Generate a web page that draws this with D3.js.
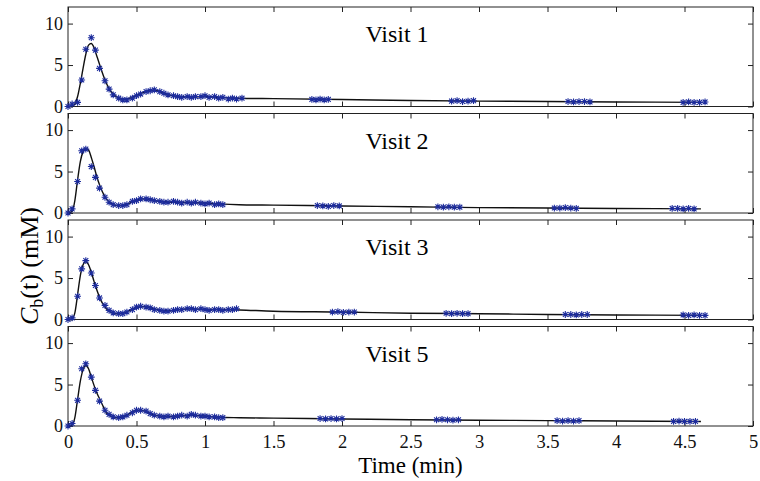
<!DOCTYPE html>
<html>
<head>
<meta charset="utf-8">
<script src="https://cdn.jsdelivr.net/npm/d3@7"></script>
<style>
  body { margin: 0; background: #fff; }
  svg { display: block; }
</style>
</head>
<body>
<script>
// Drawing area
const w = 760;
const h = 481;

// Plot box edges
const left = 68;
const right = 753;
const firstTop = 7;
const panelStep = 106.5;
const panelH = 99.5;

// Panel titles
const visits = ["Visit 1", "Visit 2", "Visit 3", "Visit 5"];

// Axis ticks
const xTicks = [0, 0.5, 1, 1.5, 2, 2.5, 3, 3.5, 4, 4.5, 5];
const yTicks = [0, 5, 10];

// Times of the dense samples (min)
const sampleTimes = [0.00, 0.03, 0.07, 0.10, 0.13, 0.17, 0.20, 0.23, 0.27, 0.30,
  0.33, 0.37, 0.40, 0.43, 0.47, 0.50, 0.53, 0.57, 0.60, 0.63, 0.67, 0.70, 0.73,
  0.77, 0.80, 0.83, 0.87, 0.90, 0.93, 0.97, 1.00, 1.03, 1.07, 1.10, 1.13, 1.17,
  1.20, 1.23, 1.27];

// Measured values for each visit (mM)
const samples1 = [0.0, 0.3, 0.5, 3.2, 6.9, 8.3, 6.8, 4.6, 3.1, 2.1, 1.4, 1.0, 0.8,
  0.8, 1.0, 1.3, 1.5, 1.8, 1.9, 2.0, 1.8, 1.6, 1.4, 1.3, 1.2, 1.1, 1.2, 1.1, 1.2,
  1.2, 1.3, 1.1, 1.2, 1.0, 1.1, 0.9, 1.0, 0.9, 1.0];
const samples2 = [0.0, 0.5, 3.8, 7.5, 7.7, 5.6, 4.3, 3.0, 1.9, 1.3, 1.0, 0.9, 0.9,
  1.0, 1.4, 1.5, 1.7, 1.7, 1.6, 1.5, 1.4, 1.3, 1.3, 1.4, 1.3, 1.2, 1.3, 1.2, 1.3,
  1.2, 1.1, 1.2, 1.0, 1.1, 1.0];
const samples3 = [0.0, 0.2, 2.8, 6.1, 7.1, 5.6, 4.1, 2.6, 1.7, 1.1, 0.8, 0.7, 0.7,
  0.9, 1.2, 1.5, 1.6, 1.5, 1.4, 1.2, 1.1, 1.0, 1.0, 1.1, 1.2, 1.2, 1.3, 1.3, 1.2,
  1.3, 1.2, 1.1, 1.2, 1.2, 1.1, 1.2, 1.2, 1.3];
const samples4 = [0.0, 0.3, 3.1, 6.9, 7.5, 5.9, 4.3, 3.0, 1.9, 1.4, 1.1, 1.0, 1.1,
  1.3, 1.6, 1.9, 1.9, 1.8, 1.5, 1.3, 1.2, 1.1, 1.2, 1.1, 1.2, 1.3, 1.2, 1.4, 1.3,
  1.2, 1.2, 1.1, 1.1, 1.0, 1.0];

// Late sample clusters: times and values
const lateTimes1 = [1.78, 1.81, 1.84, 1.87, 1.90, 2.80, 2.84, 2.88, 2.92, 2.96,
  3.65, 3.69, 3.73, 3.77, 3.81, 4.49, 4.53, 4.57, 4.61, 4.65];
const lateValues1 = [0.85, 0.8, 0.9, 0.8, 0.85, 0.65, 0.7, 0.6, 0.65, 0.7,
  0.6, 0.55, 0.6, 0.6, 0.55, 0.5, 0.55, 0.5, 0.5, 0.55];
const lateTimes2 = [1.82, 1.86, 1.90, 1.94, 1.98, 2.70, 2.74, 2.78, 2.82, 2.86,
  3.55, 3.59, 3.63, 3.67, 3.71, 4.41, 4.45, 4.49, 4.53, 4.57];
const lateValues2 = [0.9, 0.85, 0.8, 0.9, 0.85, 0.75, 0.7, 0.75, 0.7, 0.7,
  0.6, 0.6, 0.65, 0.6, 0.55, 0.55, 0.55, 0.5, 0.55, 0.5];
const lateTimes3 = [1.93, 1.97, 2.01, 2.05, 2.09, 2.76, 2.80, 2.84, 2.88, 2.92,
  3.63, 3.67, 3.71, 3.75, 3.79, 4.49, 4.53, 4.57, 4.61, 4.65];
const lateValues3 = [0.9, 0.95, 0.85, 0.9, 0.9, 0.75, 0.7, 0.75, 0.7, 0.7,
  0.6, 0.6, 0.55, 0.6, 0.6, 0.55, 0.5, 0.55, 0.5, 0.5];
const lateTimes4 = [1.84, 1.88, 1.92, 1.96, 2.00, 2.69, 2.73, 2.77, 2.81, 2.85,
  3.57, 3.61, 3.65, 3.69, 3.73, 4.42, 4.46, 4.50, 4.54, 4.58];
const lateValues4 = [0.9, 0.85, 0.9, 0.85, 0.9, 0.75, 0.8, 0.75, 0.7, 0.75,
  0.65, 0.6, 0.65, 0.6, 0.65, 0.55, 0.6, 0.55, 0.55, 0.55];

// Fitted curve: times and values for each visit
const curveTimes = [0, 0.03, 0.05, 0.07, 0.09, 0.11, 0.13, 0.15, 0.17, 0.19, 0.21,
  0.23, 0.25, 0.28, 0.31, 0.35, 0.40, 0.45, 0.50, 0.55, 0.60, 0.65, 0.70, 0.75,
  0.80, 0.90, 1.00, 1.10, 1.25, 1.50, 2.00, 2.50, 3.00, 3.50, 4.00, 4.62];
const fit1 = [0, 0.05, 0.3, 1.2, 2.8, 4.6, 6.3, 7.4, 7.6, 7.1, 6.1, 5.1, 4.1, 2.8,
  1.9, 1.2, 0.85, 1.0, 1.35, 1.7, 1.95, 1.9, 1.6, 1.35, 1.2, 1.15, 1.2, 1.1, 1.0,
  0.95, 0.85, 0.72, 0.65, 0.6, 0.55, 0.5];
const fit2 = [0, 0.2, 1.5, 4.0, 6.2, 7.4, 7.8, 7.6, 6.7, 5.6, 4.4, 3.4, 2.6, 1.7,
  1.2, 0.9, 0.9, 1.2, 1.55, 1.7, 1.6, 1.45, 1.35, 1.3, 1.3, 1.25, 1.2, 1.1, 1.0,
  0.95, 0.85, 0.75, 0.65, 0.6, 0.55, 0.5];
const fit3 = [0, 0.1, 0.8, 3.0, 5.3, 6.6, 7.0, 6.6, 5.7, 4.6, 3.6, 2.7, 2.0, 1.3,
  0.9, 0.7, 0.75, 1.1, 1.45, 1.55, 1.45, 1.2, 1.05, 1.05, 1.15, 1.3, 1.2, 1.2, 1.15,
  1.0, 0.9, 0.75, 0.7, 0.6, 0.55, 0.5];
const fit4 = [0, 0.1, 1.0, 3.2, 5.4, 6.8, 7.3, 6.9, 5.9, 4.9, 4.0, 3.3, 2.6, 1.6,
  1.2, 1.0, 1.1, 1.5, 1.9, 1.85, 1.5, 1.25, 1.15, 1.15, 1.2, 1.3, 1.2, 1.05, 1.0,
  0.95, 0.85, 0.75, 0.7, 0.65, 0.6, 0.55];

const samples = [samples1, samples2, samples3, samples4];
const lateTimes = [lateTimes1, lateTimes2, lateTimes3, lateTimes4];
const lateValues = [lateValues1, lateValues2, lateValues3, lateValues4];
const fits = [fit1, fit2, fit3, fit4];

const font = "'Liberation Serif', 'Times New Roman', serif";
const markerColor = "#1d2c9c";

const svg = d3.select("body").append("svg").attr("width", w).attr("height", h);

// Shared x scale
const xScale = d3.scaleLinear().domain([0, 5]).range([left, right]);

// Asterisk marker shape (plus and cross)
function asterisk(s) {
  const a = s * 0.72;
  return "M" + -s + ",0L" + s + ",0M0," + -s + "L0," + s +
    "M" + -a + "," + -a + "L" + a + "," + a + "M" + -a + "," + a + "L" + a + "," + -a;
}

visits.forEach(function (name, p) {
  const top = firstTop + p * panelStep;
  const bottom = top + panelH;
  const yScale = d3.scaleLinear().domain([0, 12]).range([bottom, top]);
  const g = svg.append("g");

  // Ticks on all four sides, pointing inward
  const tickLen = 5;
  g.append("g").attr("transform", "translate(0," + bottom + ")")
    .call(d3.axisBottom(xScale).tickValues(xTicks).tickSizeInner(-tickLen).tickSizeOuter(0)
      .tickFormat(p === 3 ? d3.format("") : ""))
    .call(styleAxis)
    .selectAll("text").attr("y", 9).style("font-size", "18.5px");
  g.append("g").attr("transform", "translate(0," + top + ")")
    .call(d3.axisTop(xScale).tickValues(xTicks).tickSizeInner(-tickLen).tickSizeOuter(0).tickFormat(""))
    .call(styleAxis);
  g.append("g").attr("transform", "translate(" + left + ",0)")
    .call(d3.axisLeft(yScale).tickValues(yTicks).tickSizeInner(-tickLen).tickSizeOuter(0))
    .call(styleAxis)
    .selectAll("text").attr("x", -5).style("font-size", "18px");
  g.append("g").attr("transform", "translate(" + right + ",0)")
    .call(d3.axisRight(yScale).tickValues(yTicks).tickSizeInner(-tickLen).tickSizeOuter(0).tickFormat(""))
    .call(styleAxis);

  // Box
  g.append("rect")
    .attr("x", left).attr("y", top)
    .attr("width", right - left).attr("height", bottom - top)
    .attr("fill", "none").attr("stroke", "#222").attr("stroke-width", 1);

  // Fitted curve
  const line = d3.line()
    .x(function (d, i) { return xScale(curveTimes[i]); })
    .y(function (d) { return yScale(d); })
    .curve(d3.curveMonotoneX);
  g.append("path")
    .datum(fits[p])
    .attr("d", line)
    .attr("fill", "none").attr("stroke", "#111").attr("stroke-width", 1.4);

  // Sample markers
  const pts = samples[p].map(function (v, i) { return [sampleTimes[i], v]; })
    .concat(lateValues[p].map(function (v, i) { return [lateTimes[p][i], v]; }));
  g.selectAll("path.mk")
    .data(pts)
    .enter()
    .append("path")
    .attr("class", "mk")
    .attr("transform", function (d) { return "translate(" + xScale(d[0]) + "," + yScale(d[1]) + ")"; })
    .attr("d", asterisk(3.4))
    .attr("fill", "none").attr("stroke", markerColor).attr("stroke-width", 1.1);

  // Panel title
  g.append("text")
    .attr("x", 397).attr("y", top + 35)
    .attr("text-anchor", "middle")
    .style("font-family", font).style("font-size", "24px")
    .text(name);
});

function styleAxis(sel) {
  sel.attr("font-family", null);
  sel.select(".domain").remove();
  sel.selectAll("line").attr("stroke", "#222");
  sel.selectAll("text").style("font-family", font).attr("fill", "#111");
}

// Axis titles
svg.append("text")
  .attr("x", (left + right) / 2).attr("y", 473)
  .attr("text-anchor", "middle")
  .style("font-family", font).style("font-size", "23px")
  .text("Time (min)");

const yTitle = svg.append("text")
  .attr("transform", "translate(38,266) rotate(-90)")
  .attr("text-anchor", "middle")
  .style("font-family", font).style("font-size", "26px");
yTitle.append("tspan").style("font-style", "italic").text("C");
yTitle.append("tspan").attr("dy", 5).style("font-size", "18px").text("b");
yTitle.append("tspan").attr("dy", -5).text("(t) (mM)");
</script>
</body>
</html>
